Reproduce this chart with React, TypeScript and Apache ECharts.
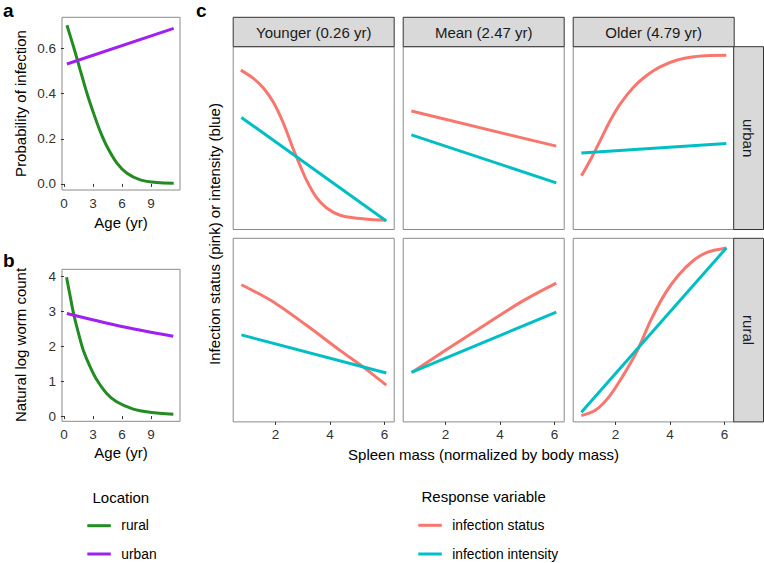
import React, { useEffect, useRef } from "react";
import * as echarts from "echarts";

// ---------- data ----------
const ageTicks = [0, 3, 6, 9];
const probTicks = [0, 0.2, 0.4, 0.6];
const wormTicks = [0, 1, 2, 3, 4];
const spleenTicks = [2, 4, 6];

// panel a: probability of infection vs age
const probRuralAge = [0.31, 0.99, 1.68, 2.38, 3.06, 3.76, 4.45, 5.48, 6.52, 7.89, 9.62, 11.35];
const probRural = [0.704, 0.609, 0.506, 0.402, 0.314, 0.232, 0.166, 0.092, 0.047, 0.018, 0.006, 0.003];
const probUrbanAge = [0.31, 11.35];
const probUrban = [0.532, 0.69];

// panel b: natural log worm count vs age
const wormRuralAge = [0.27, 0.65, 0.99, 1.51, 2.0, 2.7, 3.38, 4.42, 5.45, 7.17, 8.9, 11.31];
const wormRural = [3.98, 3.43, 2.95, 2.37, 1.89, 1.42, 1.05, 0.65, 0.41, 0.2, 0.11, 0.05];
const wormUrbanAge = [0.3, 5.5, 11.3];
const wormUrban = [2.94, 2.6, 2.29];

// panel c: relative response (0 = panel bottom, 1 = panel top) vs spleen mass
const ageGroups = ["Younger (0.26 yr)", "Mean (2.47 yr)", "Older (4.79 yr)"];
const locations = ["urban", "rural"];
const spleenEnds = [0.75, 6.07];

const youngUrbanStatusX = [0.73, 1.19, 1.55, 1.92, 2.29, 2.65, 2.9, 3.14, 3.51, 3.88, 4.37, 4.86, 5.47, 6.04];
const youngUrbanStatus = [0.872, 0.827, 0.775, 0.697, 0.582, 0.442, 0.352, 0.27, 0.174, 0.118, 0.078, 0.064, 0.055, 0.051];
const youngUrbanIntensity = [0.613, 0.047];

const meanUrbanStatusX = [0.75, 6.07];
const meanUrbanStatus = [0.648, 0.456];
const meanUrbanIntensity = [0.518, 0.255];

const oldUrbanStatusX = [0.754, 1.08, 1.45, 1.82, 2.19, 2.68, 3.17, 3.66, 4.27, 4.88, 5.5, 6.07];
const oldUrbanStatus = [0.294, 0.38, 0.489, 0.599, 0.69, 0.781, 0.845, 0.891, 0.927, 0.945, 0.952, 0.953];
const oldUrbanIntensity = [0.418, 0.471];

const youngRuralStatusX = [0.75, 1.87, 3.14, 4.42, 5.31, 6.07];
const youngRuralStatus = [0.747, 0.658, 0.526, 0.384, 0.289, 0.2];
const youngRuralIntensity = [0.474, 0.266];

const meanRuralStatusX = [0.78, 2.03, 3.43, 4.83, 6.07];
const meanRuralStatus = [0.27, 0.393, 0.526, 0.658, 0.756];
const meanRuralIntensity = [0.27, 0.598];

const oldRuralStatusX = [0.75, 1.26, 1.77, 2.28, 2.79, 3.3, 3.81, 4.32, 4.83, 5.34, 6.08];
const oldRuralStatus = [0.034, 0.063, 0.138, 0.252, 0.384, 0.554, 0.696, 0.8, 0.875, 0.922, 0.947];
const oldRuralIntensity = [0.053, 0.947];

// ---------- styles ----------
const FONT = "'Liberation Sans', Arial, Helvetica, sans-serif";
const GREEN = "#228B22";
const PURPLE = "#A020F0";
const PINK = "#F8766D";
const BLUE = "#00BFC4";
const BORDER = "#8a8a8a";
const TICK = "#333333";

const zip = (xs: number[], ys: number[]) => xs.map((x, i) => [x, ys[i]]);

export default function App() {
  const ref = useRef<HTMLDivElement>(null);

  useEffect(() => {
    document.body.style.margin = "0";
    if (!ref.current) return;
    const chart = echarts.init(ref.current, null, { renderer: "svg" });

    const colLeft = [233.2, 403.2, 573.2];
    const colW = 161;
    const rowTop = [46.7, 238.3];
    const rowH = [182.8, 183.6];

    const grids: any[] = [
      { left: 62, top: 17.3, width: 118, height: 172.7 },
      { left: 62, top: 269.3, width: 118, height: 152 },
    ];
    for (let r = 0; r < 2; r++)
      for (let c = 0; c < 3; c++)
        grids.push({ left: colLeft[c], top: rowTop[r], width: colW, height: rowH[r] });
    grids.forEach((g) => {
      g.show = true;
      g.borderColor = BORDER;
      g.borderWidth = 1;
      g.backgroundColor = "#fff";
      g.containLabel = false;
    });

    const tickLabel = { fontSize: 13.5, color: TICK, fontFamily: FONT };
    const mkX = (gi: number, min: number, max: number, ticks: number[] | null) => ({
      type: "value",
      gridIndex: gi,
      min,
      max,
      axisLine: { show: false },
      splitLine: { show: false },
      axisTick: ticks
        ? { show: true, length: 3, lineStyle: { color: TICK, width: 1 }, customValues: ticks }
        : { show: false },
      axisLabel: ticks ? { show: true, margin: 6, customValues: ticks, ...tickLabel } : { show: false },
    });
    const mkY = (gi: number, min: number, max: number, ticks: number[] | null, fmt?: (v: number) => string) => ({
      type: "value",
      gridIndex: gi,
      min,
      max,
      axisLine: { show: false },
      splitLine: { show: false },
      axisTick: ticks
        ? { show: true, length: 3, lineStyle: { color: TICK, width: 1 }, customValues: ticks }
        : { show: false },
      axisLabel: ticks
        ? { show: true, margin: 6, customValues: ticks, formatter: fmt, ...tickLabel }
        : { show: false },
    });

    const xAxes: any[] = [mkX(0, -0.2, 12.0, ageTicks), mkX(1, -0.2, 12.0, ageTicks)];
    const yAxes: any[] = [
      mkY(0, -0.027, 0.739, probTicks, (v: number) => v.toFixed(1)),
      mkY(1, -0.15, 4.21, wormTicks, (v: number) => String(v)),
    ];
    for (let r = 0; r < 2; r++)
      for (let c = 0; c < 3; c++) {
        const gi = 2 + r * 3 + c;
        xAxes.push(mkX(gi, 0.45, 6.36, r === 1 ? spleenTicks : null));
        yAxes.push(mkY(gi, 0, 1, null));
      }

    const line = (gi: number, data: number[][], color: string, smooth = false) => ({
      type: "line",
      xAxisIndex: gi,
      yAxisIndex: gi,
      data,
      showSymbol: false,
      symbol: "none",
      smooth: smooth ? 0.3 : false,
      lineStyle: { color, width: 3, cap: "butt" },
      silent: true,
      z: 3,
    });

    const cStatus = [
      zip(youngUrbanStatusX, youngUrbanStatus),
      zip(meanUrbanStatusX, meanUrbanStatus),
      zip(oldUrbanStatusX, oldUrbanStatus),
      zip(youngRuralStatusX, youngRuralStatus),
      zip(meanRuralStatusX, meanRuralStatus),
      zip(oldRuralStatusX, oldRuralStatus),
    ];
    const cIntensity = [
      youngUrbanIntensity,
      meanUrbanIntensity,
      oldUrbanIntensity,
      youngRuralIntensity,
      meanRuralIntensity,
      oldRuralIntensity,
    ].map((ys) => zip(spleenEnds, ys));

    const series: any[] = [
      line(0, zip(probRuralAge, probRural), GREEN, true),
      line(0, zip(probUrbanAge, probUrban), PURPLE),
      line(1, zip(wormRuralAge, wormRural), GREEN, true),
      line(1, zip(wormUrbanAge, wormUrban), PURPLE, true),
    ];
    for (let i = 0; i < 6; i++) {
      series.push(line(2 + i, cStatus[i], PINK, cStatus[i].length > 2));
      series.push(line(2 + i, cIntensity[i], BLUE));
    }

    const txt = (x: number, y: number, text: string, o: any = {}) => ({
      type: "text",
      x,
      y,
      rotation: o.rotation || 0,
      z: 10,
      style: {
        text,
        fontSize: o.fontSize || 15,
        fontWeight: o.fontWeight || "normal",
        fill: o.fill || "#000",
        fontFamily: FONT,
        align: o.align || "center",
        verticalAlign: o.verticalAlign || "middle",
      },
    });

    const graphics: any[] = [
      txt(3, 10, "a", { fontSize: 19, fontWeight: "bold", align: "left" }),
      txt(3, 260, "b", { fontSize: 19, fontWeight: "bold", align: "left" }),
      txt(196, 10, "c", { fontSize: 19, fontWeight: "bold", align: "left" }),
      txt(20, 103.5, "Probability of infection", { rotation: Math.PI / 2 }),
      txt(20, 345, "Natural log worm count", { rotation: Math.PI / 2 }),
      txt(121, 222, "Age (yr)"),
      txt(121, 452.5, "Age (yr)"),
      txt(214, 234, "Infection status (pink) or intensity (blue)", { rotation: Math.PI / 2 }),
      txt(483.5, 454, "Spleen mass (normalized by body mass)"),
    ];
    // strips
    for (let c = 0; c < 3; c++) {
      graphics.push({
        type: "rect",
        shape: { x: colLeft[c], y: 17.3, width: colW, height: 29.4 },
        style: { fill: "#d9d9d9", stroke: "#333", lineWidth: 1 },
        z: 5,
      });
      graphics.push(txt(colLeft[c] + colW / 2, 32.5, ageGroups[c], { fontSize: 15, fill: "#1a1a1a" }));
    }
    for (let r = 0; r < 2; r++) {
      graphics.push({
        type: "rect",
        shape: { x: 733.7, y: rowTop[r], width: 29.8, height: rowH[r] },
        style: { fill: "#d9d9d9", stroke: "#333", lineWidth: 1 },
        z: 5,
      });
      graphics.push(
        txt(748.6, rowTop[r] + rowH[r] / 2, locations[r], { fontSize: 15, fill: "#1a1a1a", rotation: -Math.PI / 2 })
      );
    }
    // legends
    const legendItem = (x0: number, y: number, color: string, label: string) => [
      {
        type: "line",
        shape: { x1: x0, y1: y, x2: x0 + 23.5, y2: y },
        style: { stroke: color, lineWidth: 3 },
        z: 10,
      },
      txt(x0 + 34, y, label, { fontSize: 13.8, align: "left" }),
    ];
    graphics.push(txt(92.5, 497, "Location", { fontSize: 15, align: "left" }));
    graphics.push(...legendItem(87.3, 525.7, GREEN, "rural"));
    graphics.push(...legendItem(87.3, 554, PURPLE, "urban"));
    graphics.push(txt(421.5, 496.5, "Response variable", { fontSize: 15, align: "left" }));
    graphics.push(...legendItem(418.3, 525.3, PINK, "infection status"));
    graphics.push(...legendItem(418.3, 554, BLUE, "infection intensity"));

    chart.setOption({
      animation: false,
      backgroundColor: "#fff",
      grid: grids,
      xAxis: xAxes,
      yAxis: yAxes,
      series,
      graphic: { elements: graphics },
    });

    return () => chart.dispose();
  }, []);

  return <div ref={ref} style={{ width: 764, height: 563 }} />;
}
